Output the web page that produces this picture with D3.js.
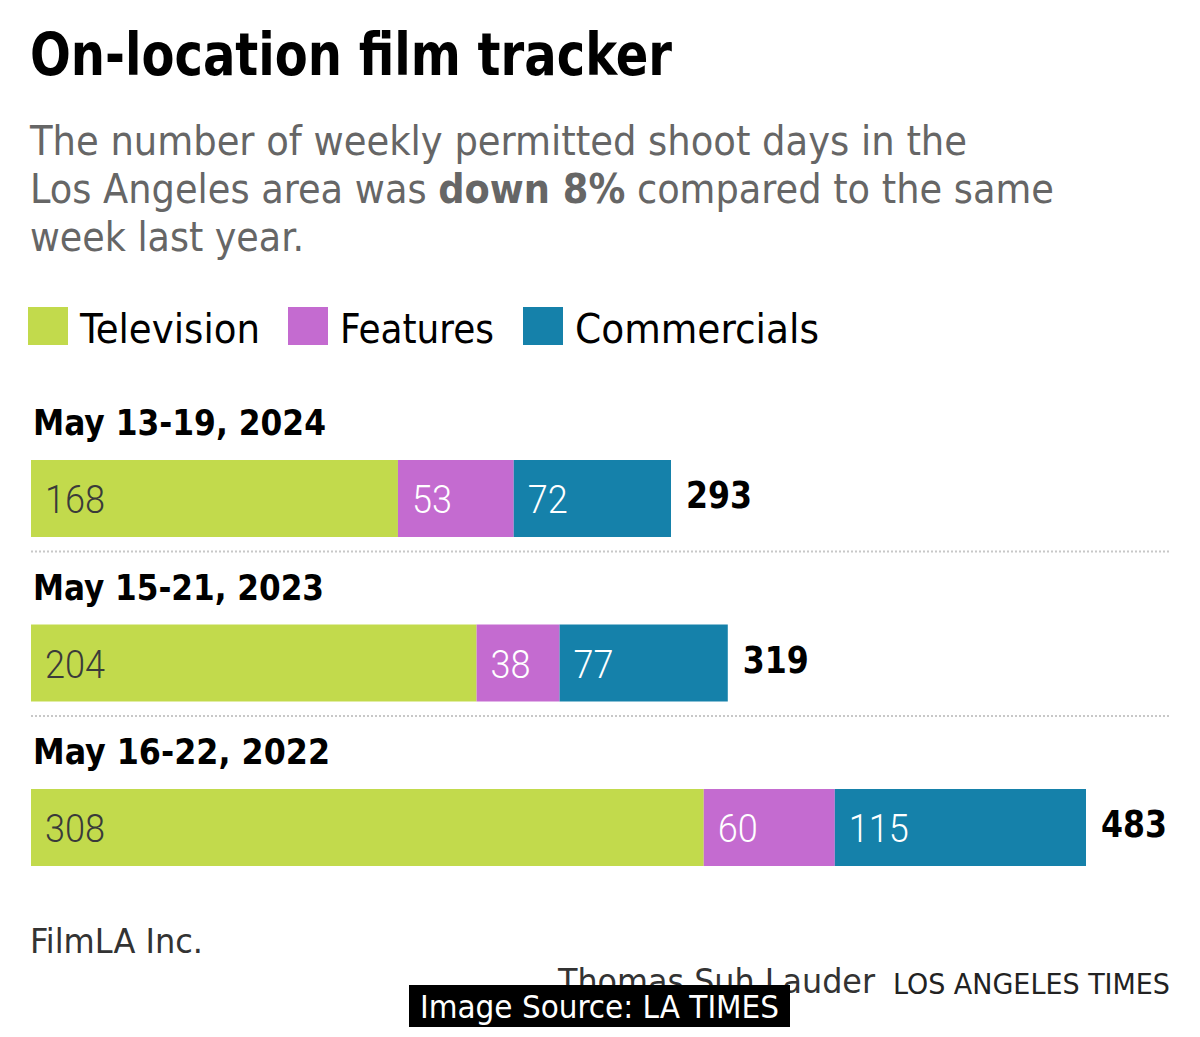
<!DOCTYPE html>
<html>
<head>
<meta charset="utf-8">
<script src="https://cdn.jsdelivr.net/npm/d3@7"></script>
<style>
  body { margin: 0; background: #fff; }
  svg { display: block; }
  text { font-family: "Liberation Sans Narrow", "DejaVu Sans Condensed", Roboto, sans-serif; }
</style>
</head>
<body>
<script>
const weeks = ["May 13-19, 2024", "May 15-21, 2023", "May 16-22, 2022"];
const seriesNames = ["Television", "Features", "Commercials"];
const television = [168, 204, 308];
const features = [53, 38, 60];
const commercials = [72, 77, 115];
const seriesColors = ["#c2da4c", "#c46bd0", "#1581aa"];
const labelColors = ["#3a3a3a", "#ffffff", "#ffffff"];

const W = 1200, H = 1037;
const svg = d3.select("body").append("svg").attr("width", W).attr("height", H);

const rows = weeks.map((w, i) => ({
  week: w, Television: television[i], Features: features[i], Commercials: commercials[i],
  total: television[i] + features[i] + commercials[i]
}));

// Title
svg.append("text").attr("x", 30).attr("y", 75)
  .attr("font-size", 58).attr("font-weight", "bold").attr("fill", "#000")
  .attr("textLength", 642).attr("lengthAdjust", "spacingAndGlyphs")
  .text("On-location film tracker");

// Subtitle
const sub = [
  { parts: [["The number of weekly permitted shoot days in the", false]], w: 937 },
  { parts: [["Los Angeles area was ", false], ["down 8%", true], [" compared to the same", false]], w: 1024 },
  { parts: [["week last year.", false]], w: 274 }
];
sub.forEach((line, i) => {
  const t = svg.append("text").attr("x", 30).attr("y", 155 + i * 48)
    .attr("font-size", 40).attr("fill", "#666")
    .attr("textLength", line.w).attr("lengthAdjust", "spacingAndGlyphs");
  line.parts.forEach(p => t.append("tspan").attr("font-weight", p[1] ? "bold" : "normal").text(p[0]));
});

// Legend
const legendX = [28, 288, 523];
const legendW = [180, 154, 244];
seriesNames.forEach((s, i) => {
  svg.append("rect").attr("x", legendX[i]).attr("y", 307).attr("width", 40).attr("height", 38)
    .attr("fill", seriesColors[i]);
  svg.append("text").attr("x", legendX[i] + 52).attr("y", 343)
    .attr("font-size", 40).attr("fill", "#000")
    .attr("textLength", legendW[i]).attr("lengthAdjust", "spacingAndGlyphs")
    .text(s);
});

// Scales
const x = d3.scaleLinear().domain([0, d3.max(rows, d => d.total)]).range([31, 1086]);
const y = d3.scaleBand().domain(weeks).range([460, 866]).paddingInner(0.532).paddingOuter(0);
const color = d3.scaleOrdinal().domain(seriesNames).range(seriesColors);
const lblColor = d3.scaleOrdinal().domain(seriesNames).range(labelColors);

const stacked = d3.stack().keys(seriesNames)(rows);

// Separators
weeks.slice(0, -1).forEach(w => {
  svg.append("line").attr("x1", 31).attr("x2", 1170)
    .attr("y1", y(w) + y.bandwidth() + 14.5).attr("y2", y(w) + y.bandwidth() + 14.5)
    .attr("stroke", "#c8c8c8").attr("stroke-width", 2).attr("stroke-dasharray", "2,2");
});

// Group labels
const groupW = [293, 291, 297];
weeks.forEach((w, i) => {
  svg.append("text").attr("x", 33).attr("y", y(w) - 25)
    .attr("font-size", 36).attr("font-weight", "bold").attr("fill", "#000")
    .attr("textLength", groupW[i]).attr("lengthAdjust", "spacingAndGlyphs")
    .text(w);
});

// Bars
const layers = svg.append("g").selectAll("g").data(stacked).join("g")
  .attr("fill", d => color(d.key));
layers.selectAll("rect").data(d => d).join("rect")
  .attr("x", d => x(d[0])).attr("y", d => y(d.data.week))
  .attr("width", d => x(d[1]) - x(d[0])).attr("height", y.bandwidth());

// Segment labels
stacked.forEach(layer => {
  svg.append("g").selectAll("text").data(layer).join("text")
    .attr("x", d => x(d[0]) + 14).attr("y", d => y(d.data.week) + 53)
    .attr("font-size", 38).attr("fill", lblColor(layer.key))
    .style("font-family", "Roboto, sans-serif").attr("font-weight", 300)
    .attr("textLength", d => String(d[1] - d[0]).length * 20).attr("lengthAdjust", "spacingAndGlyphs")
    .text(d => d[1] - d[0]);
});

// Totals
svg.append("g").selectAll("text").data(rows).join("text")
  .attr("x", d => x(d.total) + 15).attr("y", d => y(d.week) + 48)
  .attr("font-size", 38).attr("font-weight", "bold").attr("fill", "#000")
  .attr("textLength", 66).attr("lengthAdjust", "spacingAndGlyphs")
  .text(d => d.total);

// Footer
svg.append("text").attr("x", 30).attr("y", 953).attr("font-size", 34).attr("fill", "#333")
  .attr("textLength", 173).attr("lengthAdjust", "spacingAndGlyphs").text("FilmLA Inc.");
svg.append("text").attr("x", 558).attr("y", 993).attr("font-size", 34).attr("fill", "#333")
  .attr("textLength", 317).attr("lengthAdjust", "spacingAndGlyphs").text("Thomas Suh Lauder");
svg.append("text").attr("x", 893).attr("y", 994).attr("font-size", 28).attr("fill", "#222")
  .attr("textLength", 277).attr("lengthAdjust", "spacingAndGlyphs").text("LOS ANGELES TIMES");

// Image source badge
svg.append("rect").attr("x", 409).attr("y", 985).attr("width", 381).attr("height", 42).attr("fill", "#000");
svg.append("text").attr("x", 420).attr("y", 1018).attr("font-size", 32).attr("fill", "#fff")
  .attr("textLength", 359).attr("lengthAdjust", "spacingAndGlyphs").text("Image Source: LA TIMES");
</script>
</body>
</html>
